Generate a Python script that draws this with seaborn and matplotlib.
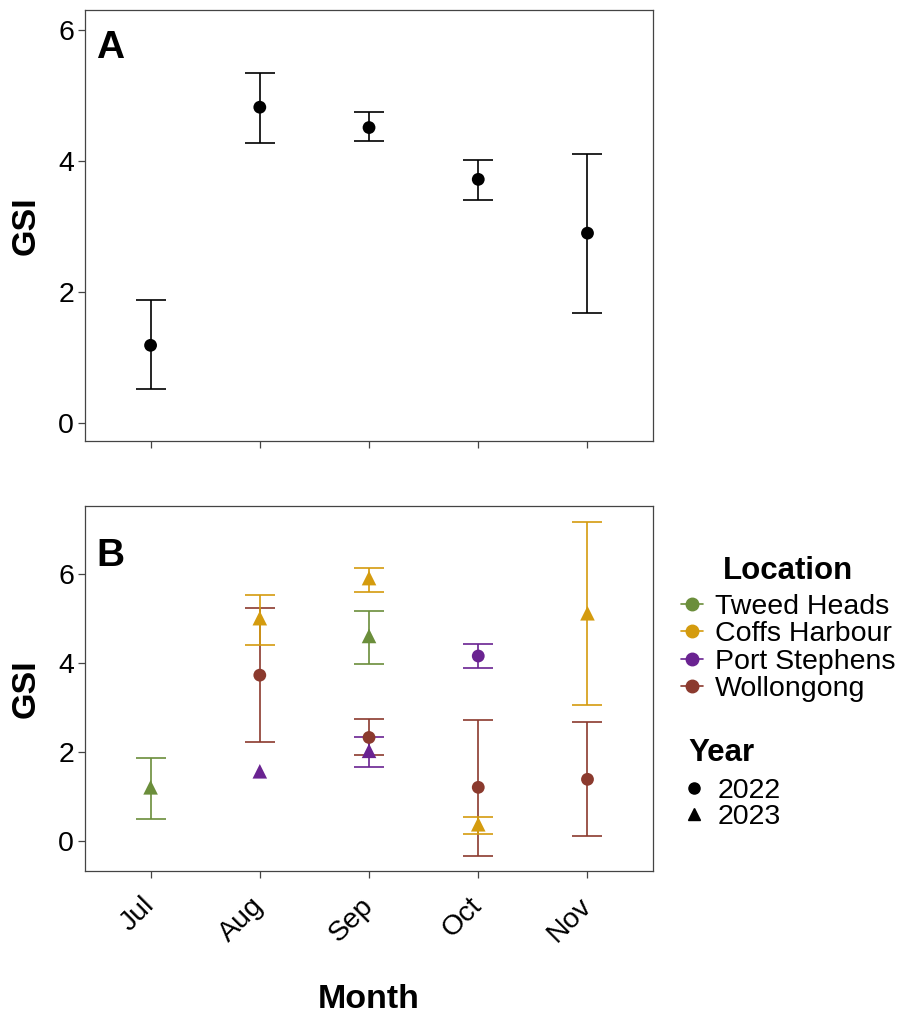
import numpy as np
import pandas as pd
import matplotlib
matplotlib.use('Agg')
from matplotlib import pyplot as plt
from matplotlib.lines import Line2D
import seaborn as sns

# month order on the x axis
months = ['Jul', 'Aug', 'Sep', 'Oct', 'Nov']

# panel A: pooled GSI (mean, lower, upper)
a_mean = [1.19, 4.82, 4.51, 3.72, 2.90]
a_low = [0.53, 4.28, 4.30, 3.41, 1.69]
a_high = [1.875, 5.34, 4.74, 4.01, 4.10]

# panel B: GSI by location and year
b_month = ['Jul', 'Aug', 'Aug', 'Aug', 'Sep', 'Sep', 'Sep', 'Sep', 'Oct', 'Oct', 'Oct', 'Nov', 'Nov']
b_location = ['Tweed Heads', 'Coffs Harbour', 'Wollongong', 'Port Stephens',
              'Coffs Harbour', 'Tweed Heads', 'Wollongong', 'Port Stephens',
              'Port Stephens', 'Wollongong', 'Coffs Harbour',
              'Coffs Harbour', 'Wollongong']
b_year = ['2023', '2023', '2022', '2023', '2023', '2023', '2022', '2023', '2022', '2022', '2023', '2023', '2022']
b_mean = [1.21, 5.01, 3.73, 1.57, 5.91, 4.61, 2.33, 2.03, 4.16, 1.21, 0.38, 5.12, 1.39]
b_low = [0.49, 4.40, 2.22, np.nan, 5.60, 3.98, 1.93, 1.67, 3.89, -0.33, 0.16, 3.05, 0.11]
b_high = [1.87, 5.53, 5.24, np.nan, 6.14, 5.17, 2.74, 2.34, 4.43, 2.73, 0.55, 7.17, 2.67]

locations = ['Tweed Heads', 'Coffs Harbour', 'Port Stephens', 'Wollongong']
loc_colors = ['#6b8e3b', '#d49b0e', '#6a2391', '#8b3a2e']
years = ['2022', '2023']
year_markers = ['o', '^']

df_a = pd.DataFrame({'Month': months, 'GSI': a_mean, 'low': a_low, 'high': a_high})
df_a['x'] = [months.index(m) for m in df_a.Month]

df_b = pd.DataFrame({'Month': b_month, 'Location': b_location, 'Year': b_year,
                     'GSI': b_mean, 'low': b_low, 'high': b_high})
df_b['x'] = [months.index(m) for m in df_b.Month]
df_b = df_b.sort_values('Year', kind='stable')

sns.set_theme(style='white')
plt.rcParams['font.family'] = ['Liberation Sans', 'DejaVu Sans']
plt.rcParams['axes.edgecolor'] = '#444444'
plt.rcParams['axes.linewidth'] = 0.9
plt.rcParams['text.color'] = 'black'
plt.rcParams['axes.labelcolor'] = 'black'
plt.rcParams['xtick.color'] = 'black'
plt.rcParams['ytick.color'] = 'black'

fig = plt.figure(figsize=(8.98, 10.14), dpi=100)
ax_a = fig.add_axes([0.0947, 0.565, 0.6325, 0.425])
ax_b = fig.add_axes([0.0947, 0.141, 0.6325, 0.360])

# panel A
ax_a.errorbar(df_a.x, df_a.GSI, yerr=[df_a.GSI - df_a.low, df_a.high - df_a.GSI],
              fmt='none', ecolor='black', elinewidth=1.2, capsize=11, capthick=1.2)
sns.scatterplot(data=df_a, x='x', y='GSI', color='black', s=85, edgecolor='none', ax=ax_a, zorder=3)
ax_a.set_ylim(-0.27, 6.30)
ax_a.set_yticks([0, 2, 4, 6])
ax_a.set_xticklabels([])
ax_a.text(0.044, 0.912, 'A', transform=ax_a.transAxes, fontsize=28, fontweight='bold', va='center', ha='center')

# panel B
pal = dict(zip(locations, loc_colors))
for year, mk in zip(years, year_markers):
    sub = df_b[df_b.Year == year]
    for _, r in sub.iterrows():
        if not np.isnan(r.low):
            ax_b.errorbar([r.x], [r.GSI], yerr=[[r.GSI - r.low], [r.high - r.GSI]], fmt='none',
                          ecolor=pal[r.Location], elinewidth=1.2, capsize=11, capthick=1.2, zorder=2)
    sns.scatterplot(data=sub, x='x', y='GSI', hue='Location', palette=pal, marker=mk,
                    s=85 if mk == 'o' else 110, edgecolor='none', legend=False, ax=ax_b, zorder=3)
ax_b.set_ylim(-0.67, 7.53)
ax_b.set_yticks([0, 2, 4, 6])
ax_b.text(0.044, 0.862, 'B', transform=ax_b.transAxes, fontsize=28, fontweight='bold', va='center', ha='center')

for ax in (ax_a, ax_b):
    ax.set_xlim(-0.6, 4.6)
    ax.set_xticks(range(len(months)))
    ax.set_ylabel('GSI', fontsize=24.5, fontweight='bold', labelpad=12)
    ax.set_xlabel('')
    ax.tick_params(axis='both', which='both', direction='out', length=5, width=0.9,
                   color='#444444', labelsize=20.5, left=True, bottom=True, pad=3)
    for sp in ax.spines.values():
        sp.set_visible(True)

ax_b.set_xticklabels(months, rotation=45, ha='right', va='center', rotation_mode='anchor')
ax_b.tick_params(axis='x', pad=17)
ax_b.set_xlabel('Month', fontsize=24.5, fontweight='bold', labelpad=27)

# legends
loc_handles = [Line2D([0], [0], color=c, marker='o', markersize=9, lw=1.2, label=l)
               for l, c in zip(locations, loc_colors)]
leg1 = fig.legend(handles=loc_handles, title='Location', loc='upper left',
                  bbox_to_anchor=(0.758, 0.452), frameon=False, fontsize=20.5,
                  title_fontproperties={'weight': 'bold', 'size': 22.5},
                  handlelength=0.8, handletextpad=0.4, labelspacing=0.05, borderaxespad=0,
                  borderpad=0)
leg1._legend_box.sep = 6
year_handles = [Line2D([0], [0], color='black', marker=m, markersize=8 if m == 'o' else 9, lw=0, label=y)
                for y, m in zip(years, year_markers)]
leg2 = fig.legend(handles=year_handles, title='Year', loc='upper left',
                  bbox_to_anchor=(0.767, 0.272), frameon=False, fontsize=20.5,
                  title_fontproperties={'weight': 'bold', 'size': 22.5},
                  handlelength=0.4, handletextpad=0.62, labelspacing=0.0, borderaxespad=0,
                  borderpad=0)
leg2._legend_box.sep = 7
leg2._legend_box.align = 'left'

fig.savefig('out.png', dpi=100)
